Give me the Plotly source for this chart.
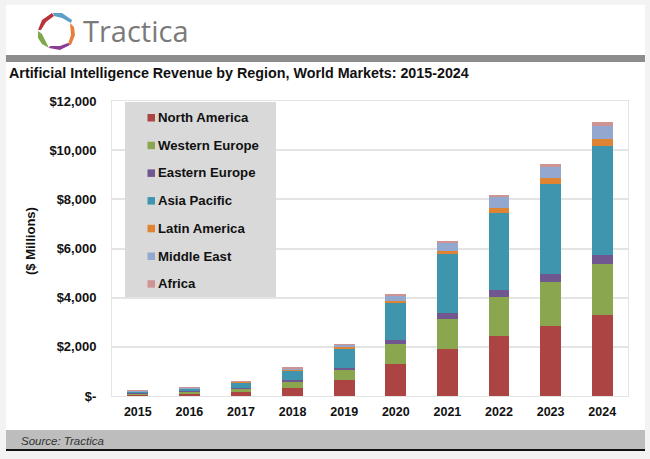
import plotly.graph_objects as go

years = ["2015","2016","2017","2018","2019","2020","2021","2022","2023","2024"]
north_america = [50,90,170,330,650,1300,1930,2450,2860,3280]
western_europe = [60,80,130,270,435,800,1200,1570,1780,2080]
eastern_europe = [15,15,30,40,60,160,260,280,310,390]
asia_pacific = [60,110,230,380,785,1530,2390,3130,3690,4430]
latin_america = [10,15,20,40,50,90,120,220,210,270]
middle_east = [10,30,20,60,100,200,340,430,450,550]
africa = [10,15,10,30,30,50,80,110,140,130]
series = [("North America",north_america,"#AB4442"),("Western Europe",western_europe,"#8AA64E"),
          ("Eastern Europe",eastern_europe,"#70578F"),("Asia Pacific",asia_pacific,"#4095AE"),
          ("Latin America",latin_america,"#DE8433"),("Middle East",middle_east,"#93A8CF"),
          ("Africa",africa,"#CE9493")]
tick_vals = [0,2000,4000,6000,8000,10000,12000]
tick_text = ["$-","$2,000","$4,000","$6,000","$8,000","$10,000","$12,000"]

W,H=650,459
L,R,T,B=112,22,101,63
def px(x): return (x-L)/(W-L-R)
def py(y): return 1-(y-T)/(H-T-B)
def rect(x0,y0,x1,y1,color,layer="below"):
    return dict(type="rect",xref="paper",yref="paper",x0=px(x0),x1=px(x1),y0=py(y0),y1=py(y1),
                fillcolor=color,line_width=0,layer=layer)
def poly(points,color):
    d="M"+"L".join(f"{px(a):.5f},{py(b):.5f}" for a,b in points)+"Z"
    return dict(type="path",xref="paper",yref="paper",path=d,fillcolor=color,line_width=0,layer="above")

fig=go.Figure()
for name,vals,col in series:
    fig.add_bar(x=years,y=vals,name=name,marker=dict(color=col,line_width=0),showlegend=False)

shapes=[rect(0,0,650,459,"#F3F3F3"),rect(6,5,645,450,"#FFFFFF"),rect(6,55,645,62,"#8C8C8C"),
        rect(6,430,645,450,"#BDBDBD"),rect(6,449,645,451,"#111111")]
# logo segments
shapes+=[poly([(38,30),(42,20),(52,13),(54,16),(46,22),(41,30)],"#B8343A"),
         poly([(53,13),(62,13),(72,20),(71,23),(62,18),(54,16)],"#5CA0C8"),
         poly([(70,23),(74,27),(75,35),(71,45),(68,44),(71,35)],"#E5803A"),
         poly([(68,43),(70,45),(60,50),(49,48),(50,46),(60,46)],"#8E3B97"),
         poly([(38,31),(42,34),(47,44),(49,48),(42,44),(38,38)],"#7FA84A")]

txt="Liberation Sans"
ann=[dict(text="Tractica",x=px(81),y=py(31),font=dict(family="Open Sans",size=29,color="#7A7A7A"),xanchor="left"),
     dict(text="<b>Artificial Intelligence Revenue by Region, World Markets: 2015-2024</b>",x=px(7),y=py(73),
          font=dict(family=txt,size=14.3,color="#111111"),xanchor="left"),
     dict(text="<i>Source: Tractica</i>",x=px(19),y=py(441),font=dict(family=txt,size=11.5,color="#333333"),xanchor="left"),
     dict(text="<b>($ Millions)</b>",x=px(30),y=py(241),textangle=-90,xanchor="center",font=dict(family=txt,size=13,color="#111111"))]
# key panel drawn from the series list
shapes.append(rect(125,102,276,297,"#D9D9D9",layer="above"))
for i,(name,vals,col) in enumerate(series):
    yc=117.5+i*27.7
    shapes.append(rect(147.5,yc-3.5,155,yc+4,col,layer="above"))
    ann.append(dict(text=f"<b>{name}</b>",x=px(156),y=py(yc),xanchor="left",
                    font=dict(family=txt,size=13.2,color="#111111")))
for a in ann:
    a.update(xref="paper",yref="paper",showarrow=False,yanchor="middle")

fig.update_layout(
    shapes=shapes,annotations=ann,showlegend=False,
    width=W,height=H,margin=dict(l=L,r=R,t=T,b=B,autoexpand=False),barmode="stack",bargap=0.6,
    paper_bgcolor="#F3F3F3",plot_bgcolor="rgba(0,0,0,0)",
    font=dict(family=txt,size=12,color="#111111"),
    xaxis=dict(type="category",showline=True,linecolor="#E4E4E4",linewidth=1,mirror=True,ticks="",
               tickfont=dict(family=txt,size=12.5,weight="bold"),ticklabelstandoff=4),
    yaxis=dict(range=[0,12000],tickvals=tick_vals,ticktext=tick_text,showgrid=True,gridcolor="#E4E4E4",gridwidth=1.5,
               zeroline=False,showline=True,linecolor="#E4E4E4",mirror=True,ticks="",
               tickfont=dict(family=txt,size=13,weight="bold"),ticklabelstandoff=12),
)
fig.write_html("out.html",config=dict(displayModeBar=False),
               post_script="document.body.style.margin='0';document.body.style.overflow='hidden';window.dispatchEvent(new Event('resize'));")
